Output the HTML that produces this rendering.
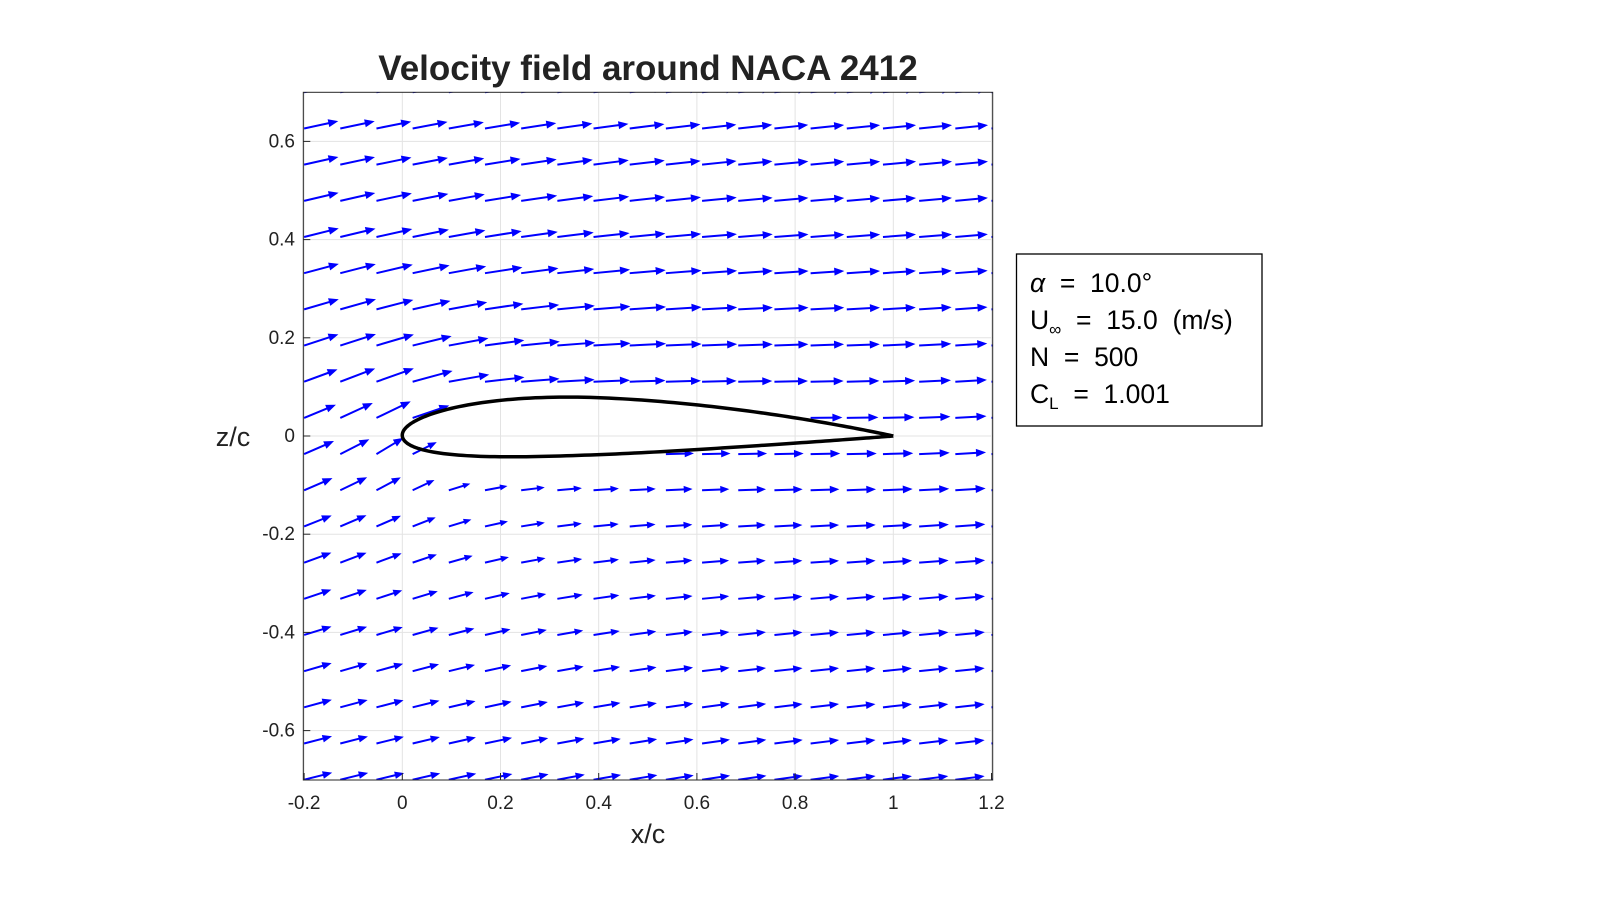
<!DOCTYPE html>
<html><head><meta charset="utf-8">
<style>
html,body{margin:0;padding:0;background:#fff;}
svg{display:block;font-family:"Liberation Sans",Arial,sans-serif;}
.pre{white-space:pre;}
</style></head>
<body>
<svg id="chart" width="1600" height="919" viewBox="0 0 1600 919" xmlns="http://www.w3.org/2000/svg">
<rect x="0" y="0" width="1600" height="919" fill="#fff"/>
<text x="648" y="80" text-anchor="middle" font-size="35" font-weight="bold" fill="#222">Velocity field around NACA 2412</text>
<g id="grid"></g>
<defs><clipPath id="plotclip"><rect x="303" y="92" width="690" height="688"/></clipPath></defs>
<g id="arrows" clip-path="url(#plotclip)"></g>
<path id="airfoil" fill="none" stroke="#000" stroke-width="3.5" stroke-linejoin="round"/>
<rect x="303.3" y="92.3" width="689.4" height="687.7" fill="none" stroke="#262626" stroke-width="1"/>
<g id="ticks"></g>
<text x="648" y="843" text-anchor="middle" font-size="27" fill="#222">x/c</text>
<text x="233" y="446" text-anchor="middle" font-size="27" fill="#222">z/c</text>
<g>
<rect x="1016.5" y="254" width="245.5" height="172" fill="#fff" stroke="#000" stroke-width="1.3"/>
<text class="pre" x="1030" y="292" font-size="26.5" fill="#000"><tspan font-style="italic">α</tspan>  =  10.0°</text>
<text class="pre" x="1030" y="329" font-size="26.5" fill="#000">U<tspan font-size="17" dy="6">∞</tspan><tspan dy="-6">  =  15.0  (m/s)</tspan></text>
<text class="pre" x="1030" y="366" font-size="26.5" fill="#000">N  =  500</text>
<text class="pre" x="1030" y="403" font-size="26.5" fill="#000">C<tspan font-size="17" dy="6">L</tspan><tspan dy="-6">  =  1.001</tspan></text>
</g>
</svg>
<script>
// ---- data ----
const alphaDeg = [10.0];
const uInf = [15.0];
const liftCoeff = [1.001];
const nacaCode = ["2412"];
const xTicks = [-0.2, 0, 0.2, 0.4, 0.6, 0.8, 1, 1.2];
const xTickLabels = ["-0.2", "0", "0.2", "0.4", "0.6", "0.8", "1", "1.2"];
const zTicks = [-0.6, -0.4, -0.2, 0, 0.2, 0.4, 0.6];
const zTickLabels = ["-0.6", "-0.4", "-0.2", "0", "0.2", "0.4", "0.6"];
const xRange = [-0.2, 1.2];
const zRange = [-0.7, 0.7];
const gridCount = [20];

// ---- axes ----
const SC = 491, X0 = 402.3, Y0 = 436;
const X = x => X0 + x * SC;
const Y = z => Y0 - z * SC;
const NS = "http://www.w3.org/2000/svg";
function mk(tag, attrs, parent) {
  const e = document.createElementNS(NS, tag);
  for (const k in attrs) e.setAttribute(k, attrs[k]);
  parent.appendChild(e); return e;
}
const grid = document.getElementById('grid');
const ticks = document.getElementById('ticks');
xTicks.forEach((t, i) => {
  const l = mk('line', {x1: X(t), x2: X(t), y1: 92.3, y2: 780, stroke: '#e3e3e3', 'stroke-width': 1}, grid);
  
  
  const tk = mk('line', {x1: X(t), x2: X(t), y1: 780, y2: 773, stroke: '#262626', 'stroke-width': 1}, ticks);
  
  
  const tx = mk('text', {x: X(t), y: 809, 'text-anchor': 'middle', 'font-size': 19, fill: '#222'}, ticks);
  tx.textContent = xTickLabels[i];
  
  
});
zTicks.forEach((t, i) => {
  const l = mk('line', {x1: 303.3, x2: 992.7, y1: Y(t), y2: Y(t), stroke: '#e3e3e3', 'stroke-width': 1}, grid);
  
  
  const tk = mk('line', {x1: 303.3, x2: 310.3, y1: Y(t), y2: Y(t), stroke: '#262626', 'stroke-width': 1}, ticks);
  
  
  const tx = mk('text', {x: 295, y: Y(t) + 6, 'text-anchor': 'end', 'font-size': 19, fill: '#222'}, ticks);
  tx.textContent = zTickLabels[i];
  
  
});

// ---- airfoil geometry (NACA 4-digit) ----
const m = +nacaCode[0][0] / 100, p = +nacaCode[0][1] / 10, th = +nacaCode[0].slice(2) / 100;
function camber(x) {
  if (x < p) return [m / (p * p) * (2 * p * x - x * x), 2 * m / (p * p) * (p - x)];
  return [m / ((1 - p) * (1 - p)) * (1 - 2 * p + 2 * p * x - x * x), 2 * m / ((1 - p) * (1 - p)) * (p - x)];
}
function thick(x) { return 5 * th * (0.2969 * Math.sqrt(x) - 0.126 * x - 0.3516 * x * x + 0.2843 * x ** 3 - 0.1036 * x ** 4); }
function surf(x, s) {
  const [yc, dy] = camber(x), yt = thick(x), a = Math.atan(dy);
  return [x - s * yt * Math.sin(a), yc + s * yt * Math.cos(a)];
}
const NP = 120; let d = '';
for (let i = NP; i >= 0; i--) { const x = (1 - Math.cos(Math.PI * i / NP)) / 2; const [sx, sz] = surf(x, 1); d += (d ? 'L' : 'M') + X(sx).toFixed(2) + ',' + Y(sz).toFixed(2); }
for (let i = 1; i <= NP; i++) { const x = (1 - Math.cos(Math.PI * i / NP)) / 2; const [sx, sz] = surf(x, -1); d += 'L' + X(sx).toFixed(2) + ',' + Y(sz).toFixed(2); }
document.getElementById('airfoil').setAttribute('d', d);
function inside(x, z) {
  if (x <= 0 || x >= 1) return false;
  const yc = camber(x)[0], yt = thick(x);
  return z < yc + yt + 0.004 && z > yc - yt - 0.004;
}

// ---- velocity field: freestream + distributed bound vortex ----
const U = uInf[0], al = alphaDeg[0] * Math.PI / 180;
const Gam = 0.5 * U * 1 * liftCoeff[0] * 1.15;
const NV = 30, vort = [];
let wsum = 0;
for (let i = 0; i < NV; i++) { const t = (i + 0.5) * Math.PI / NV; const w = 1 + Math.cos(t); vort.push([(1 - Math.cos(t)) / 2, w]); wsum += w; }
vort.forEach(v => { v[2] = camber(v[0])[0]; v[1] = Gam * v[1] / wsum; });
function vel(x, z) {
  let u = U * Math.cos(al), w = U * Math.sin(al);
  vort.forEach(([xv, g, zv]) => {
    const dx = x - xv, dz = z - zv, r2 = dx * dx + dz * dz + 0.006;
    u += g / (2 * Math.PI) * dz / r2;
    w += -g / (2 * Math.PI) * dx / r2;
  });
  return [u, w];
}
const arrows = document.getElementById('arrows');
const n = gridCount[0], PXV = 2.1;
for (let j = 0; j < n; j++) {
  for (let i = 0; i < n; i++) {
    const x = xRange[0] + i * (xRange[1] - xRange[0]) / (n - 1);
    const z = zRange[0] + j * (zRange[1] - zRange[0]) / (n - 1);
    if (inside(x, z)) continue;
    const [u, w] = vel(x, z);
    const x1 = X(x), y1 = Y(z), x2 = x1 + u * PXV, y2 = y1 - w * PXV;
    const L = Math.hypot(x2 - x1, y2 - y1), ux = (x2 - x1) / L, uy = (y2 - y1) / L;
    const hl = Math.min(10, 0.33 * L), hw = hl * 0.4;
    const g = mk('g', {}, arrows);
    
    
    mk('line', {x1: x1.toFixed(2), y1: y1.toFixed(2), x2: (x2 - ux * hl * 0.6).toFixed(2), y2: (y2 - uy * hl * 0.6).toFixed(2), stroke: '#0000ff', 'stroke-width': 2}, g);
    const bx = x2 - ux * hl, by = y2 - uy * hl;
    mk('polygon', {points: `${x2.toFixed(2)},${y2.toFixed(2)} ${(bx - uy * hw).toFixed(2)},${(by + ux * hw).toFixed(2)} ${(bx + uy * hw).toFixed(2)},${(by - ux * hw).toFixed(2)}`, fill: '#0000ff'}, g);
  }
}
</script>
</body></html>
